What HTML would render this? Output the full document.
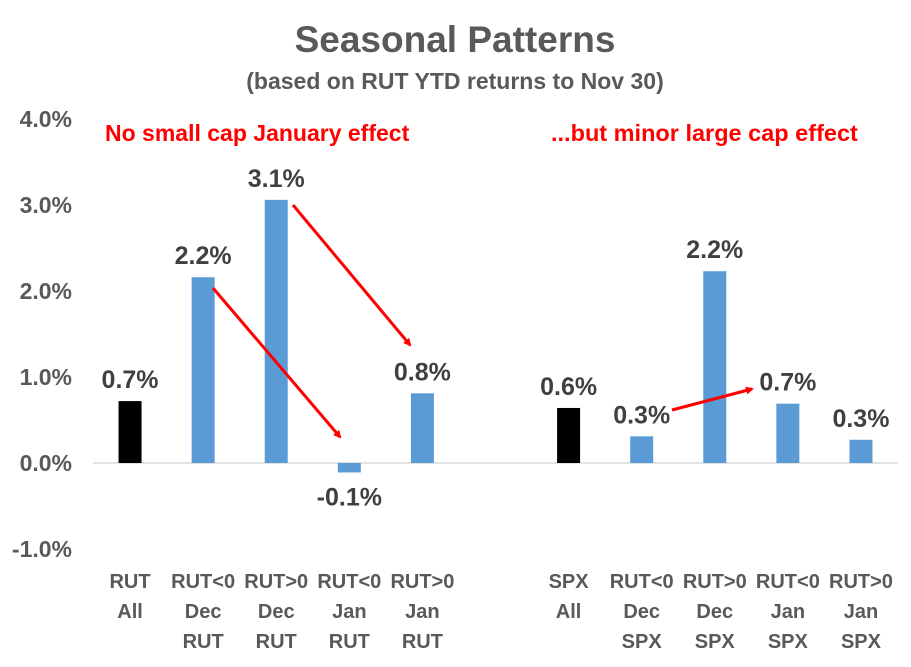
<!DOCTYPE html>
<html><head><meta charset="utf-8"><style>
body{margin:0;background:#fff;}
svg text{font-family:"Liberation Sans",Arial,sans-serif;font-weight:bold;}
</style></head><body>
<svg width="911" height="662" viewBox="0 0 911 662">
<defs><marker id="ah" markerWidth="8" markerHeight="8" refX="6" refY="4" orient="auto" markerUnits="userSpaceOnUse"><path d="M0,0 L8,4 L0,8 z" fill="#ff0000"/></marker></defs>
<rect width="911" height="662" fill="#fff"/>
<text x="455" y="52" text-anchor="middle" font-size="37" fill="#595959">Seasonal Patterns</text>
<text x="455" y="89" text-anchor="middle" font-size="23" fill="#595959">(based on RUT YTD returns to Nov 30)</text>
<text x="105" y="141" font-size="23" fill="#ff0000">No small cap January effect</text>
<text x="551" y="141" font-size="23.5" fill="#ff0000">...but minor large cap effect</text>
<g id="yaxis"></g>
<line x1="93" y1="463" x2="898" y2="463" stroke="#d9d9d9" stroke-width="1.5"/>
<g id="bars"></g>
<line x1="213" y1="288" x2="340" y2="437" stroke="#ff0000" stroke-width="3" marker-end="url(#ah)"/>
<line x1="293" y1="205" x2="410" y2="345" stroke="#ff0000" stroke-width="3" marker-end="url(#ah)"/>
<line x1="672" y1="410" x2="752" y2="389" stroke="#ff0000" stroke-width="3" marker-end="url(#ah)"/>
</svg>
<script>
const categories=[["RUT","All"],["RUT<0","Dec","RUT"],["RUT>0","Dec","RUT"],["RUT<0","Jan","RUT"],["RUT>0","Jan","RUT"],null,["SPX","All"],["RUT<0","Dec","SPX"],["RUT>0","Dec","SPX"],["RUT<0","Jan","SPX"],["RUT>0","Jan","SPX"]];
const values=[0.72,2.16,3.06,-0.11,0.81,null,0.64,0.31,2.23,0.69,0.27];
const valueLabels=["0.7%","2.2%","3.1%","-0.1%","0.8%",null,"0.6%","0.3%","2.2%","0.7%","0.3%"];
const benchmark=[true,false,false,false,false,false,true,false,false,false,false];
const yTicks=[4,3,2,1,0,-1];
const yTickLabels=["4.0%","3.0%","2.0%","1.0%","0.0%","-1.0%"];
const NS="http://www.w3.org/2000/svg";
const y=v=>463-v*86;
const slot=(897.5-93.5)/11;
const x=i=>93.5+slot*(i+0.5);
const ya=document.getElementById('yaxis'),bg=document.getElementById('bars');
yTicks.forEach((t,i)=>{const e=document.createElementNS(NS,'text');


e.setAttribute('x',72);e.setAttribute('y',y(t)+8);e.setAttribute('text-anchor','end');e.setAttribute('font-size','23');e.setAttribute('fill','#595959');e.textContent=yTickLabels[i];ya.appendChild(e);});
values.forEach((v,i)=>{if(v===null)return;const cx=x(i);
const r=document.createElementNS(NS,'rect');


r.setAttribute('x',cx-11.5);r.setAttribute('width',23);r.setAttribute('y',Math.min(y(v),463));r.setAttribute('height',Math.abs(y(v)-463));r.setAttribute('fill',benchmark[i]?'#000':'#5b9bd5');bg.appendChild(r);
const t=document.createElementNS(NS,'text');


t.setAttribute('x',cx);t.setAttribute('y',v>=0?y(v)-13:y(v)+33);t.setAttribute('text-anchor','middle');t.setAttribute('font-size','25');t.setAttribute('fill','#404040');t.textContent=valueLabels[i];bg.appendChild(t);
categories[i].forEach((l,j)=>{const c=document.createElementNS(NS,'text');


c.setAttribute('x',cx);c.setAttribute('y',588+j*30);c.setAttribute('text-anchor','middle');c.setAttribute('font-size','20');c.setAttribute('fill','#595959');c.textContent=l;bg.appendChild(c);});
});
</script>
</body></html>
